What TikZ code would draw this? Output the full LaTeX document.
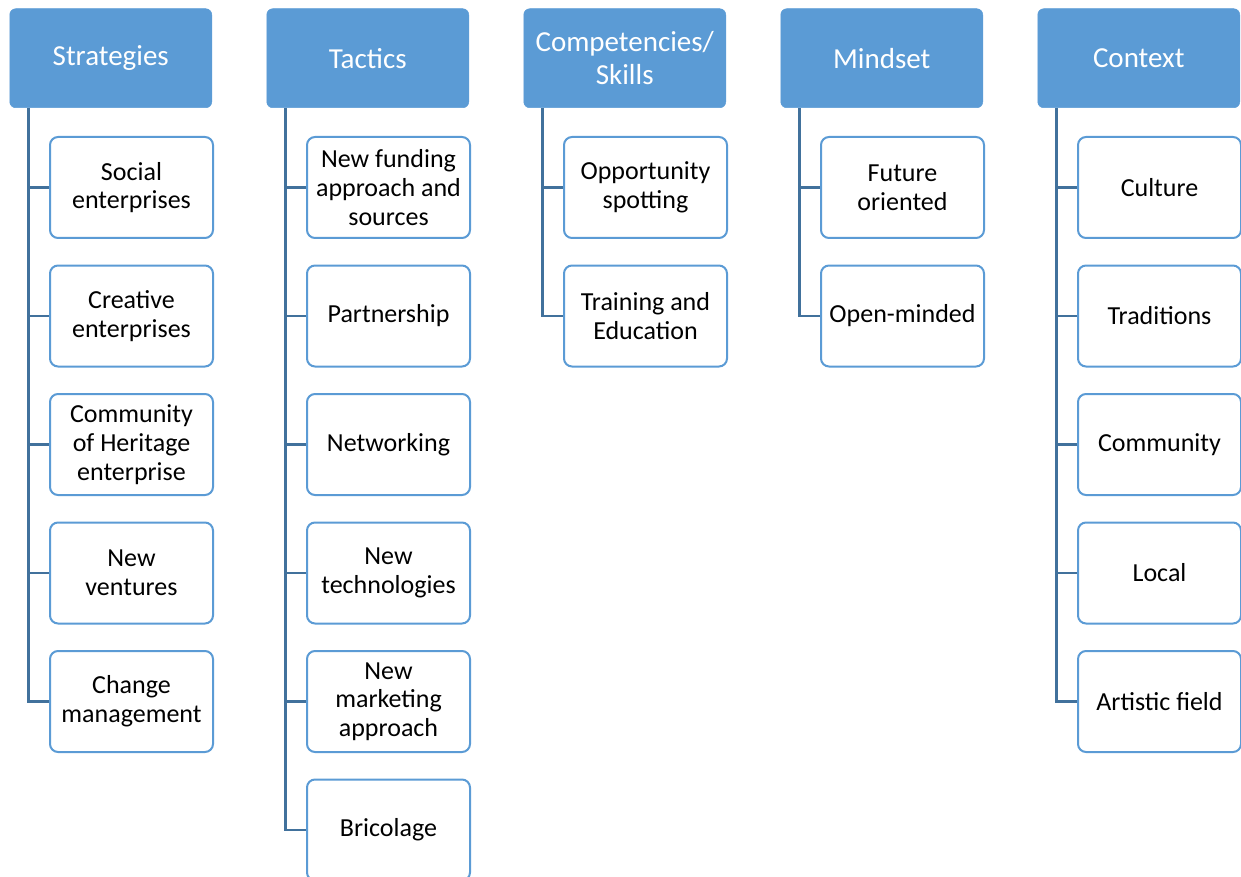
\documentclass[tikz,border=0pt]{standalone}
\usepackage{fontspec}
\setmainfont{Carlito}
\definecolor{hdr}{HTML}{5B9BD5}
\definecolor{conn}{HTML}{41719C}
\tikzset{
  hdrbox/.style={fill=hdr, draw=hdr, line width=0.5pt, rounded corners=6pt, minimum width=202pt, minimum height=99pt, text=white, font=\fontsize{29}{33}\selectfont, align=center, inner sep=0pt, anchor=north west},
  childbox/.style={draw=hdr, line width=2pt, fill=white, rounded corners=8pt, minimum width=163pt, minimum height=101pt, font=\fontsize{26}{28.7}\selectfont, align=center, inner sep=0pt, anchor=north west},
  link/.style={draw=conn, line width=2.5pt}
}
\begin{document}
\begin{tikzpicture}[x=1pt,y=-1pt]
\useasboundingbox (0,0) rectangle (1241,877);
% headers
\node[hdrbox] (h1) at (9.5,8.5) {Strategies};
\node[hdrbox] (h2) at (266.5,8.5) {Tactics};
\node[hdrbox] (h3) at (523.5,8.5) {Competencies/\\Skills};
\node[hdrbox] (h4) at (780.5,8.5) {Mindset};
\node[hdrbox] (h5) at (1037.5,8.5) {Context};
% Strategies children
\node[childbox] (s1) at (49,136) {Social\\enterprises};
\node[childbox] (s2) at (49,264.5) {Creative\\enterprises};
\node[childbox] (s3) at (49,393) {Community\\of Heritage\\enterprise};
\node[childbox] (s4) at (49,521.5) {New\\ventures};
\node[childbox] (s5) at (49,650) {Change\\management};
% Tactics children
\node[childbox] (t1) at (306,136) {New funding\\approach and\\sources};
\node[childbox] (t2) at (306,264.5) {Partnership};
\node[childbox] (t3) at (306,393) {Networking};
\node[childbox] (t4) at (306,521.5) {New\\technologies};
\node[childbox] (t5) at (306,650) {New\\marketing\\approach};
\node[childbox] (t6) at (306,778.5) {Bricolage};
% Competencies children
\node[childbox] (k1) at (563,136) {Opportunity\\spotting};
\node[childbox] (k2) at (563,264.5) {Training and\\Education};
% Mindset children
\node[childbox] (m1) at (820,136) {Future\\oriented};
\node[childbox] (m2) at (820,264.5) {Open-minded};
% Context children
\node[childbox] (x1) at (1077,136) {Culture};
\node[childbox] (x2) at (1077,264.5) {Traditions};
\node[childbox] (x3) at (1077,393) {Community};
\node[childbox] (x4) at (1077,521.5) {Local};
\node[childbox] (x5) at (1077,650) {Artistic field};
% connectors
\foreach \h/\last/\others in {h1/s5/{s1,s2,s3,s4}, h2/t6/{t1,t2,t3,t4,t5}, h3/k2/{k1}, h4/m2/{m1}, h5/x5/{x1,x2,x3,x4}}{
  \coordinate (\h top) at ([xshift=19pt]\h.south west);
  \draw[link, line join=miter] (\h top) |- (\last.west);
  \foreach \c in \others {
    \draw[link] (\c.west) -- (\c.west -| \h top);
  }
}
\end{tikzpicture}
\end{document}
